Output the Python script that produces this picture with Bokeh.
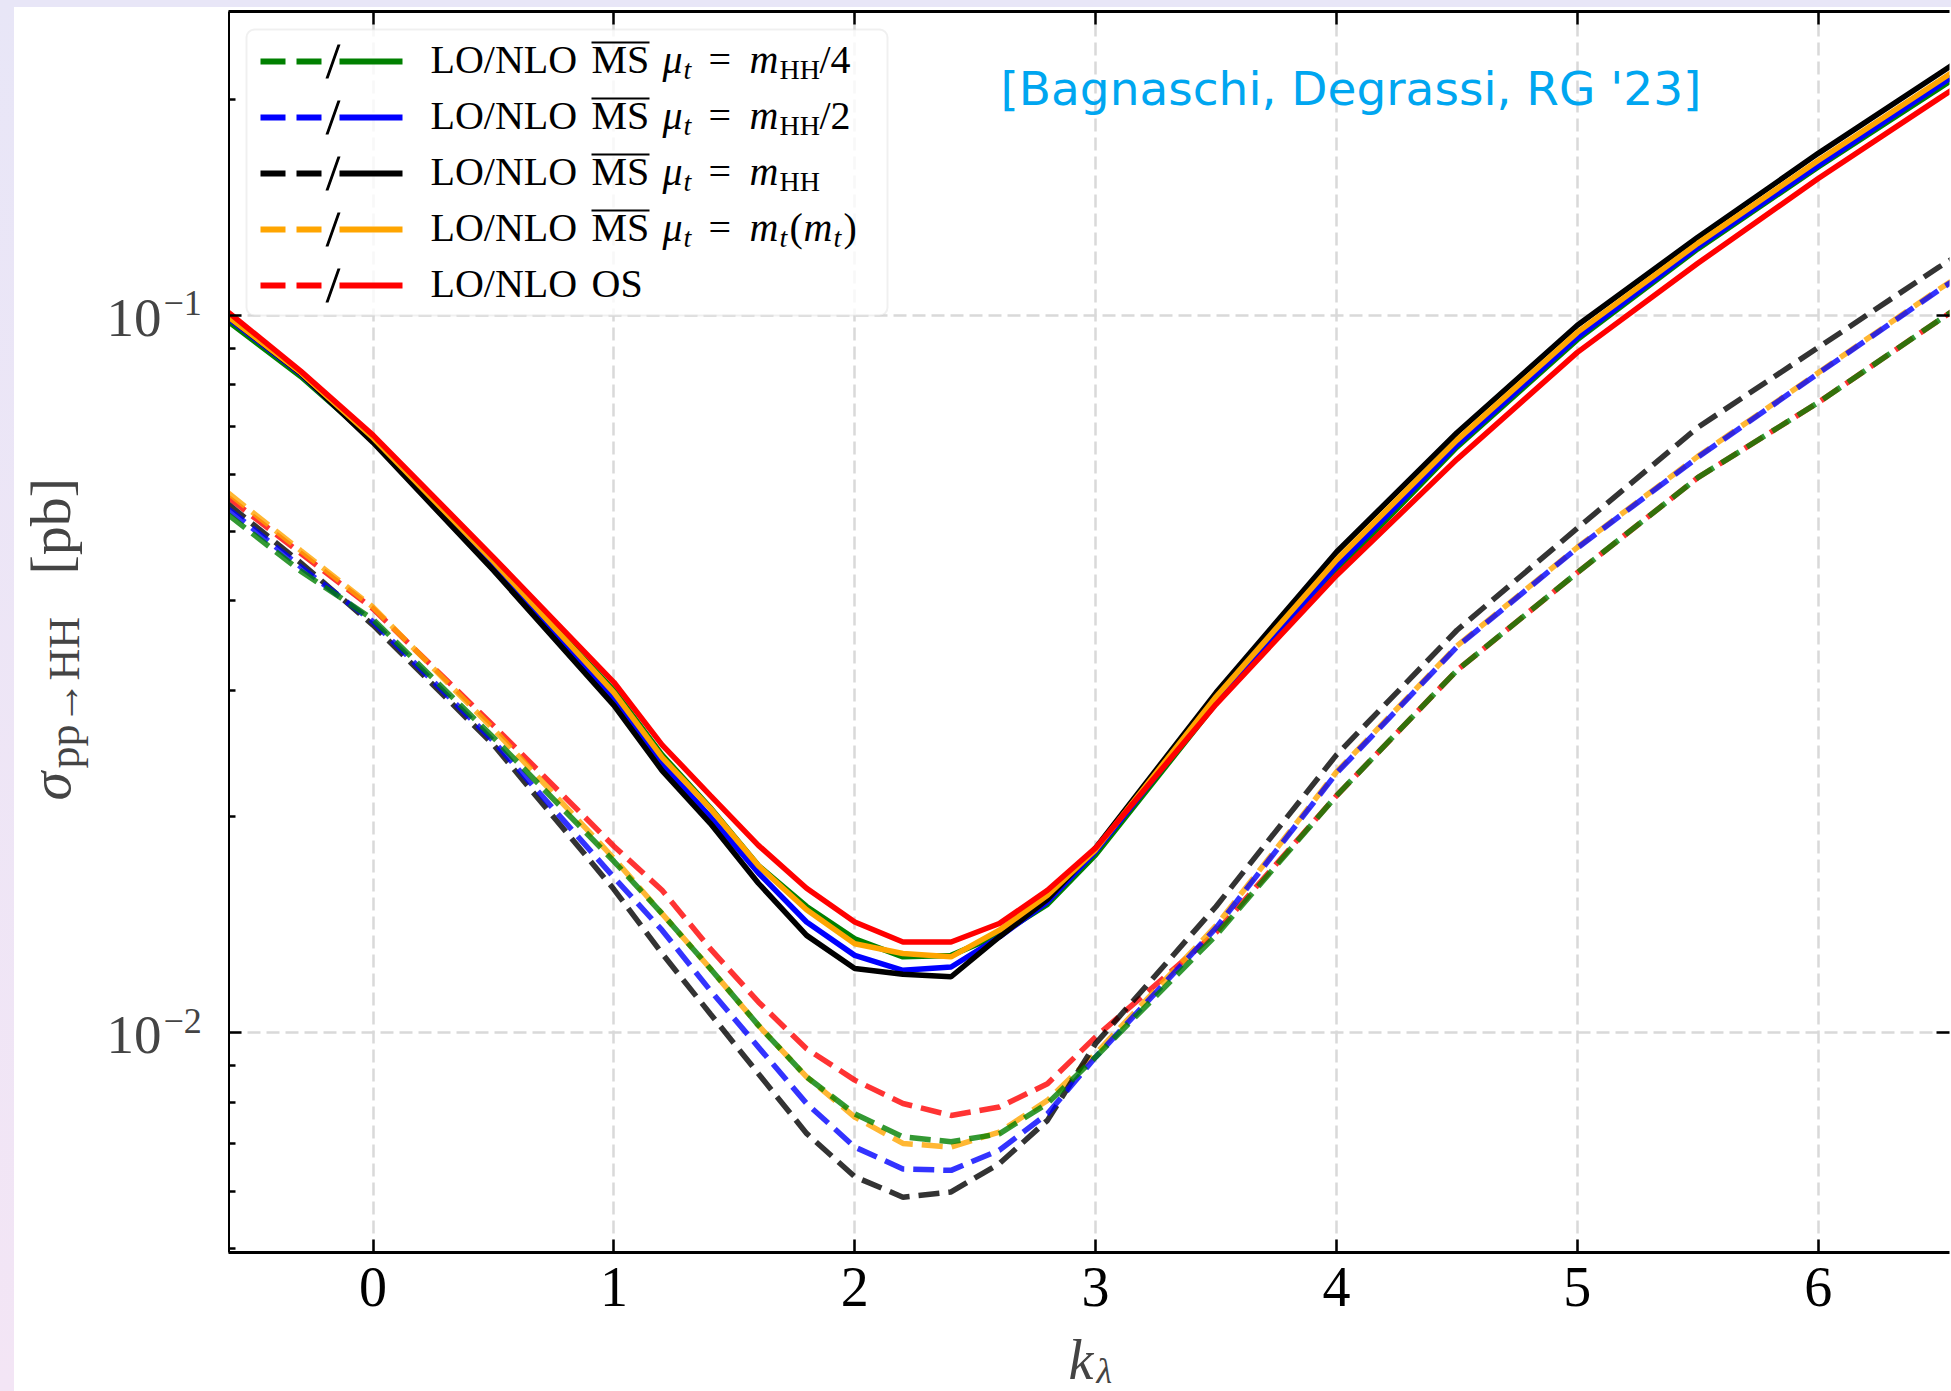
from math import pi
from bokeh.plotting import figure
from bokeh.layouts import column, row
from bokeh.models import (Range1d, FixedTicker, LinearAxis, LogAxis, Label, BoxAnnotation,
                          PolyAnnotation, CustomJSTickFormatter)
from bokeh.embed import file_html
from bokeh.resources import INLINE

# ---------------- data ----------------
k_lambda = [-0.6, -0.3, 0.0, 0.5, 1.0, 1.2, 1.4, 1.6, 1.8, 2.0, 2.2, 2.4,
            2.6, 2.8, 3.0, 3.5, 4.0, 4.5, 5.0, 5.5, 6.0, 6.5, 7.0]

# NLO (solid)
nlo_mhh4 = [0.0980, 0.0822, 0.0670, 0.0452, 0.0300, 0.0244, 0.0206, 0.0171, 0.0150, 0.01352, 0.01276, 0.01282,
            0.0137, 0.0151, 0.0177, 0.0288, 0.0440, 0.0655, 0.0925, 0.1238, 0.161, 0.207, 0.267]
nlo_mhh2 = [0.0990, 0.0828, 0.0668, 0.0448, 0.0292, 0.0237, 0.0200, 0.0167, 0.01427, 0.01282, 0.01222, 0.01235,
            0.0136, 0.01522, 0.0179, 0.0290, 0.0447, 0.0660, 0.0932, 0.1245, 0.1618, 0.209, 0.270]
nlo_mhh = [0.0995, 0.0830, 0.0665, 0.0441, 0.0286, 0.0232, 0.01959, 0.01616, 0.01367, 0.01229, 0.01207, 0.01197,
           0.0136, 0.01535, 0.0181, 0.0298, 0.0468, 0.0686, 0.0969, 0.1285, 0.1682, 0.217, 0.280]
nlo_mtmt = [0.0995, 0.0832, 0.0675, 0.0454, 0.0298, 0.0242, 0.02055, 0.0171, 0.01484, 0.01331, 0.01290, 0.01276,
            0.0139, 0.01555, 0.0180, 0.0294, 0.0456, 0.0670, 0.0947, 0.1260, 0.1644, 0.212, 0.274]
nlo_os = [0.1010, 0.0836, 0.0681, 0.0460, 0.0308, 0.0252, 0.02143, 0.01825, 0.0159, 0.01427, 0.01338, 0.01338,
          0.0142, 0.0158, 0.0181, 0.0287, 0.0434, 0.0630, 0.0888, 0.1182, 0.1552, 0.2005, 0.258]

# LO (dashed)
lo_mhh4 = [0.0527, 0.0440, 0.0377, 0.0258, 0.01734, 0.01466, 0.01229, 0.01024, 0.00868, 0.00771, 0.00716, 0.00705,
           0.00723, 0.00797, 0.00925, 0.01367, 0.0214, 0.0320, 0.0438, 0.0594, 0.0756, 0.0984, 0.127]
lo_mhh2 = [0.0537, 0.0446, 0.0374, 0.0255, 0.01647, 0.01390, 0.01146, 0.00955, 0.00797, 0.00693, 0.00646, 0.00643,
           0.00686, 0.00771, 0.00925, 0.0140, 0.0230, 0.0345, 0.0474, 0.0634, 0.0830, 0.1084, 0.139]
lo_mhh = [0.0545, 0.0452, 0.0370, 0.0252, 0.01585, 0.01290, 0.01063, 0.00877, 0.00724, 0.00630, 0.00590, 0.00600,
          0.00657, 0.00755, 0.00966, 0.0150, 0.0244, 0.0364, 0.0505, 0.0698, 0.0902, 0.1167, 0.148]
lo_mtmt = [0.0565, 0.0470, 0.0392, 0.0265, 0.0175, 0.01466, 0.01229, 0.01024, 0.00868, 0.00763, 0.00701, 0.00693,
           0.00727, 0.00805, 0.00935, 0.0141, 0.0231, 0.0346, 0.0475, 0.0636, 0.0832, 0.1087, 0.1395]
lo_os = [0.0557, 0.0466, 0.0390, 0.0268, 0.0182, 0.0158, 0.0131, 0.01104, 0.0095, 0.00859, 0.00797, 0.00767,
         0.00788, 0.00849, 0.00987, 0.0138, 0.0214, 0.0320, 0.0438, 0.0594, 0.0756, 0.0984, 0.127]

x_ticks = [0, 1, 2, 3, 4, 5, 6]
y_ticks = [0.01, 0.1]
y_tick_exponents = ["\u22122", "\u22121"]
y_minor = [0.005, 0.006, 0.007, 0.008, 0.009, 0.02, 0.03, 0.04, 0.05, 0.06, 0.07, 0.08, 0.09, 0.2]

series_colors = ["#008000", "#0000ff", "#000000", "#ffa500", "#ff0000"]
series_lo = [lo_mhh4, lo_mhh2, lo_mhh, lo_mtmt, lo_os]
series_nlo = [nlo_mhh4, nlo_mhh2, nlo_mhh, nlo_mtmt, nlo_os]

credit_text = "[Bagnaschi, Degrassi, RG '23]"

SERIF = "Liberation Serif"
MID = 0.34  # distance (in em) from baseline up to the text middle

# ---------------- main figure ----------------
Y_RANGE = Range1d(0.00494, 0.2652)
p = figure(width=1723, height=1322,
           x_range=Range1d(-0.6, 6.545), y_range=Y_RANGE,
           y_axis_type="log", output_backend="svg", toolbar_location=None,
           min_border_left=0, min_border_right=2, min_border_top=4, min_border_bottom=77)
p.margin = (7, 0, 0, 0)
p.background_fill_color = "white"
p.border_fill_color = "white"
p.outline_line_color = None

blank = CustomJSTickFormatter(code="return ''")

xa = p.xaxis[0]
xa.ticker = FixedTicker(ticks=x_ticks)
xa.major_tick_in = 13
xa.major_tick_out = 0
xa.major_tick_line_width = 2.5
xa.minor_tick_line_color = None
xa.axis_line_width = 3
xa.major_label_text_font = SERIF
xa.major_label_text_font_size = "56px"
xa.major_label_text_color = "black"
xa.major_label_standoff = 15

ya = p.yaxis[0]
ya.ticker = FixedTicker(ticks=y_ticks, minor_ticks=y_minor)
ya.formatter = blank
ya.major_tick_in = 13
ya.major_tick_out = 0
ya.major_tick_line_width = 2.5
ya.minor_tick_in = 7
ya.minor_tick_out = 0
ya.minor_tick_line_width = 2.5
ya.axis_line_width = 3
ya.major_label_text_font_size = "2px"
ya.major_label_standoff = 0

top_axis = LinearAxis(ticker=FixedTicker(ticks=x_ticks), formatter=blank, major_tick_in=13, major_tick_out=0,
                      major_tick_line_width=2.5, minor_tick_line_color=None, axis_line_width=3,
                      major_label_text_font_size="2px", major_label_standoff=0)
p.add_layout(top_axis, "above")

right_axis = LogAxis(ticker=FixedTicker(ticks=y_ticks), formatter=blank, major_tick_in=13, major_tick_out=0,
                     major_tick_line_width=2.5, minor_tick_line_color=None, axis_line_color=None,
                     major_label_text_font_size="2px", major_label_standoff=0)
p.add_layout(right_axis, "right")

for g in (p.xgrid[0], p.ygrid[0]):
    g.grid_line_color = "#d9d9d9"
    g.grid_line_width = 2.5
    g.grid_line_dash = "13 6"
p.xgrid[0].ticker = FixedTicker(ticks=x_ticks)
p.ygrid[0].ticker = FixedTicker(ticks=y_ticks)

for col, lo in reversed(list(zip(series_colors, series_lo))):
    p.line(k_lambda, lo, line_color=col, line_width=5.5, line_dash="21 9", line_alpha=0.8)
for col, nlo in zip(series_colors, series_nlo):
    p.line(k_lambda, nlo, line_color=col, line_width=5.5)

# ---------------- helpers (page coordinates -> frame screen units) ----------------
FL, FB = 228, 1252  # page position of main frame left / bottom


def sx(px):
    return px - FL


def sy(py):
    return FB - py


def mtext(fig, px, pbase, s, size, style="normal", font=SERIF, color="black", left=FL):
    """Text whose alphabetic baseline sits at page y = pbase (frame-relative screen units)."""
    fig.add_layout(Label(x=px - left, y=sy(pbase - MID * size), x_units="screen", y_units="screen",
                         text=s, text_font=font, text_font_size=f"{size}px", text_font_style=style,
                         text_align="left", text_baseline="middle", text_color=color))


# credit line (placed in data coordinates)
p.add_layout(Label(x=4.06, y=0.197, y_offset=16, text=credit_text, text_font="DejaVu Sans",
                   text_font_size="47px", text_color="#00a6f0", text_align="center",
                   text_baseline="middle"))

# legend
p.add_layout(BoxAnnotation(left=sx(246), right=sx(887), top=sy(29), bottom=sy(315),
                           left_units="screen", right_units="screen", top_units="screen",
                           bottom_units="screen", fill_color="white", fill_alpha=0.8,
                           line_color="#cccccc", line_width=2, border_radius=8))


def box(l, r, t, b, color):
    p.add_layout(BoxAnnotation(left=sx(l), right=sx(r), top=sy(t), bottom=sy(b),
                               left_units="screen", right_units="screen", top_units="screen",
                               bottom_units="screen", fill_color=color, fill_alpha=1.0,
                               line_color=None))


LS, SS = 40, 28  # legend main / subscript font sizes
row_tails = [
    [("m", 749, LS, "italic", 0), ("HH", 779, SS, "normal", 6), ("/4", 819, LS, "normal", 0)],
    [("m", 749, LS, "italic", 0), ("HH", 779, SS, "normal", 6), ("/2", 819, LS, "normal", 0)],
    [("m", 749, LS, "italic", 0), ("HH", 779, SS, "normal", 6)],
    [("m", 749, LS, "italic", 0), ("t", 779, SS, "italic", 6), ("(", 789, LS, "normal", 0),
     ("m", 803, LS, "italic", 0), ("t", 833, SS, "italic", 6), (")", 843, LS, "normal", 0)],
]

for i, col in enumerate(series_colors):
    yc = 61 + 56 * i
    box(260, 285, yc - 3, yc + 3, col)
    box(296, 321, yc - 3, yc + 3, col)
    box(339, 402, yc - 3, yc + 3, col)
    p.add_layout(PolyAnnotation(xs=[sx(325), sx(328), sx(340), sx(337)],
                                ys=[sy(yc + 17), sy(yc + 17), sy(yc - 17), sy(yc - 17)],
                                xs_units="screen", ys_units="screen", fill_color="black",
                                fill_alpha=1.0, line_color=None))
    base = yc + 12
    mtext(p, 430, base, "LO/NLO", LS)
    if i < 4:
        mtext(p, 591, base, "MS", LS)
        box(591, 649, yc - 20, yc - 18, "black")
        mtext(p, 662, base, "\u03bc", LS, "italic")
        mtext(p, 683, base + 6, "t", SS, "italic")
        mtext(p, 708, base, "=", LS)
        for s, x, size, style, dy in row_tails[i]:
            mtext(p, x, base + dy, s, size, style)
    else:
        mtext(p, 591, base, "OS", LS)

# ---------------- left strip: y tick labels and y title ----------------
left = figure(width=214, height=1322, x_range=Range1d(14, 228), y_range=Y_RANGE,
              y_axis_type="log", x_axis_location=None, y_axis_location=None,
              output_backend="svg", toolbar_location=None,
              min_border_left=0, min_border_right=0, min_border_top=4, min_border_bottom=77)
left.margin = (7, 0, 0, 14)
left.outline_line_color = None
left.grid.visible = False
left.background_fill_color = "white"
left.border_fill_color = "white"

for v, e in zip(y_ticks, y_tick_exponents):
    left.add_layout(Label(x=161, y=v, y_offset=-21 + MID * 55, text="10", text_font=SERIF,
                          text_font_size="55px", text_align="right", text_baseline="middle"))
    left.add_layout(Label(x=163, y=v, y_offset=MID * 36, text=e, text_font=SERIF,
                          text_font_size="36px", text_align="left", text_baseline="middle"))


def vtext(px_base, py_start, s, size, style="normal"):
    left.add_layout(Label(x=px_base - MID * size, y=sy(py_start), y_units="screen", text=s,
                          text_font=SERIF, text_font_size=f"{size}px", text_font_style=style,
                          text_align="left", text_baseline="middle", angle=pi / 2, angle_units="rad"))


vtext(70, 800, "\u03c3", 58, "italic")
vtext(79, 768, "pp\u2192HH", 44)
vtext(70, 574, "[pb]", 58)

# ---------------- bottom strip: x title ----------------
bottom = figure(width=1937, height=62, x_range=Range1d(14, 1951), y_range=Range1d(1391, 1329),
                x_axis_location=None, y_axis_location=None, output_backend="svg", toolbar_location=None,
                min_border=0)
bottom.margin = (0, 0, 0, 14)
bottom.outline_line_color = None
bottom.grid.visible = False
bottom.background_fill_color = "white"
bottom.border_fill_color = "white"
bottom.add_layout(Label(x=1068, y=1379 - MID * 56, text="k", text_font=SERIF, text_font_size="56px",
                        text_font_style="italic", text_baseline="middle", text_align="left"))
bottom.add_layout(Label(x=1096, y=1383 - MID * 36, text="\u03bb", text_font=SERIF, text_font_size="36px",
                        text_font_style="italic", text_baseline="middle", text_align="left"))

page_bg = ("linear-gradient(180deg, #e8e6f7 0%, #f3e5f5 100%) left top / 14px 100% no-repeat, "
           "linear-gradient(#e8e6f7, #e8e6f7) left top / 100% 7px no-repeat, white")
layout = column(row(left, p), bottom, width=1951, height=1391, styles={"background": page_bg})

open("out.html", "w").write(file_html(layout, INLINE))
